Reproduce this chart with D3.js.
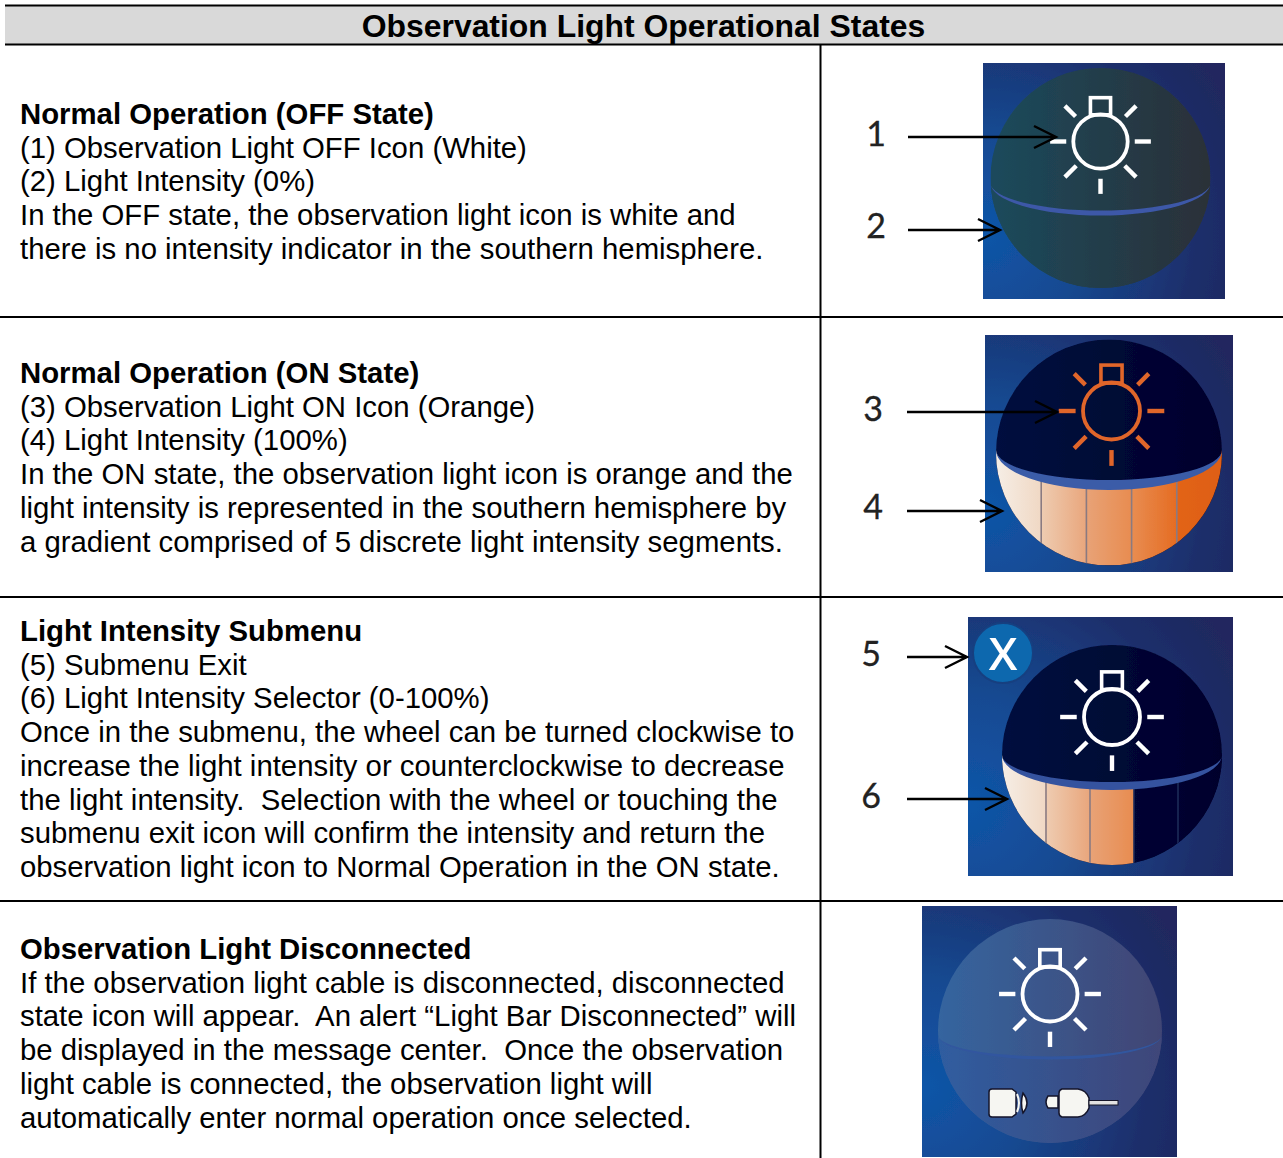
<!DOCTYPE html>
<html><head><meta charset="utf-8"><script src="https://cdn.jsdelivr.net/npm/d3@7"></script>
<style>html,body{margin:0;padding:0;background:#fff}svg{display:block}text{font-family:"Liberation Sans",Arial,sans-serif;fill:#000}</style></head>
<body><svg id="c" width="1283" height="1158"></svg>
<script>
const chartTitle = "Observation Light Operational States";
const rowTitles = ["Normal Operation (OFF State)","Normal Operation (ON State)","Light Intensity Submenu","Observation Light Disconnected"];
const rowBodies = [
 ["(1) Observation Light OFF Icon (White)","(2) Light Intensity (0%)","In the OFF state, the observation light icon is white and","there is no intensity indicator in the southern hemisphere."],
 ["(3) Observation Light ON Icon (Orange)","(4) Light Intensity (100%)","In the ON state, the observation light icon is orange and the","light intensity is represented in the southern hemisphere by","a gradient comprised of 5 discrete light intensity segments."],
 ["(5) Submenu Exit","(6) Light Intensity Selector (0-100%)","Once in the submenu, the wheel can be turned clockwise to","increase the light intensity or counterclockwise to decrease","the light intensity.  Selection with the wheel or touching the","submenu exit icon will confirm the intensity and return the","observation light icon to Normal Operation in the ON state."],
 ["If the observation light cable is disconnected, disconnected","state icon will appear.  An alert “Light Bar Disconnected” will","be displayed in the message center.  Once the observation","light cable is connected, the observation light will","automatically enter normal operation once selected."]
];
const intensityPercent = [0,100,60,null];
const segmentCount = 5;
const calloutLabels = [["1","2"],["3","4"],["5","6"],[]];

// layout (kept apart from the values above)
const firstBaselines=[124,383,641,959], linePitch=33.7;
const orangeStops=[[0,"#f6eee6"],[0.2,"#f0d8c4"],[0.205,"#eecbb0"],[0.4,"#e9a67c"],[0.405,"#e8a276"],[0.6,"#e88c50"],[0.605,"#e88c50"],[0.8,"#e56c22"],[0.805,"#e26418"],[1,"#de5e12"]];
const panels=[
 {x:983,y:63,w:242,h:236,cx:1100.5,cy:178,r:110,eq:183,eqB:213,ix:1100.5,iy:141.5,ir:27.2,icon:"#fff",
  top:["#1b4a5c","#2b3038"],bot:["#1b4a5c","#2b3038"],band:"#3c58a8",bandW:5,
  callouts:[{tx:876,ty:134,x1:908,x2:1056,y:137},{tx:876,ty:226,x1:908,x2:1000,y:230}]},
 {x:985,y:335,w:248,h:237,cx:1109,cy:452.5,r:113,eq:450,eqB:485,ix:1111.5,iy:411,ir:28.5,icon:"#e0662a",
  top:["#04103f","#00002c"],bot:["#04103f","#00002c"],band:"#3a5ca8",bandW:10,
  callouts:[{tx:873,ty:409,x1:907,x2:1057,y:412},{tx:873,ty:507,x1:907,x2:1002,y:511}]},
 {x:968,y:617,w:265,h:259,cx:1112,cy:755,r:110,eq:755,eqB:786,ix:1112,iy:717,ir:28,icon:"#fff",
  top:["#04103f","#00002c"],bot:["#04103f","#00002c"],band:"#34529f",bandW:8,exit:{x:1003,y:653,r:30},
  callouts:[{tx:871,ty:654,x1:907,x2:967,y:657},{tx:871,ty:796,x1:907,x2:1007,y:799}]},
 {x:922,y:906,w:255,h:251,cx:1050,cy:1031,r:112,eq:1035,eqB:1058,ix:1050,iy:994,ir:27.5,icon:"#fff",
  top:["#35659f","#414574"],bot:["#2f5da0","#3f4679"],band:"#31579f",bandW:3,plug:true,
  callouts:[]}
];

const svg=d3.select("#c"), defs=svg.append("defs");
const blur=defs.append("filter").attr("id","soft").attr("x","-5%").attr("y","-5%").attr("width","110%").attr("height","110%");
blur.append("feGaussianBlur").attr("stdDeviation",0.6);
function lin(id,stops){const g=defs.append("linearGradient").attr("id",id);
  stops.forEach(s=>g.append("stop").attr("offset",s[0]).attr("stop-color",s[1]));return `url(#${id})`;}

// header band and rules
svg.append("rect").attr("x",5).attr("y",5).attr("width",1278).attr("height",39).attr("fill","#d9d9d9");
const rule=(x1,y1,x2,y2)=>svg.append("line").attr("x1",x1).attr("y1",y1).attr("x2",x2).attr("y2",y2).attr("stroke","#000").attr("stroke-width",2);
rule(5,5.5,1283,5.5);rule(5,44.5,1283,44.5);
[317,597,901].forEach(y=>rule(0,y,1283,y));
rule(820.5,44,820.5,1158);

svg.append("text").attr("x",643.5).attr("y",37).attr("text-anchor","middle").attr("font-weight","bold").attr("font-size",31.9).text(chartTitle);
rowTitles.forEach((t,i)=>{
  const g=svg.append("g").attr("font-size",29.33);
  g.append("text").attr("x",20).attr("y",firstBaselines[i]).attr("font-weight","bold").text(t);
  g.selectAll("text.b").data(rowBodies[i]).join("text").attr("class","b").attr("x",20)
   .attr("y",(d,j)=>firstBaselines[i]+(j+1)*linePitch).style("white-space","pre").text(d=>d);
});

const rowG=svg.selectAll("g.panel").data(panels).join("g").attr("class","panel");
rowG.each(function(p,i){
  const g=d3.select(this), art=g.append("g").attr("filter","url(#soft)");
  const id="p"+i;
  const bg=defs.append("radialGradient").attr("id",id+"bg").attr("gradientUnits","userSpaceOnUse")
    .attr("cx",p.x).attr("cy",p.y+p.h*0.72).attr("r",p.w*1.15);
  [[0,"#0f55a8"],[0.35,"#164a92"],[0.75,"#1c2f6c"],[1,"#20285e"]].forEach(s=>bg.append("stop").attr("offset",s[0]).attr("stop-color",s[1]));
  art.append("rect").attr("x",p.x).attr("y",p.y).attr("width",p.w).attr("height",p.h).attr("fill",`url(#${id}bg)`);
  defs.append("clipPath").attr("id",id+"c").append("circle").attr("cx",p.cx).attr("cy",p.cy).attr("r",p.r);
  const S=art.append("g").attr("clip-path",`url(#${id}c)`);
  const L=p.cx-p.r,R=p.cx+p.r;
  const arc=(b,sweep,to)=>`A${p.r},${b-p.eq} 0 0 ${sweep} ${to},${p.eq}`;
  S.append("rect").attr("x",L).attr("y",p.cy-p.r).attr("width",2*p.r).attr("height",2*p.r).attr("fill",lin(id+"t",[[0,p.top[0]],[1,p.top[1]]]));
  const lowerId=id+"l";
  defs.append("clipPath").attr("id",lowerId).append("path").attr("d",`M${L},${p.eq}${arc(p.eqB,0,R)}L${R},${p.cy+p.r}L${L},${p.cy+p.r}Z`);
  const lower=S.append("g").attr("clip-path",`url(#${lowerId})`);
  lower.append("rect").attr("x",L).attr("y",p.cy-p.r).attr("width",2*p.r).attr("height",2*p.r).attr("fill",lin(id+"b",[[0,p.bot[0]],[1,p.bot[1]]]));
  const pct=intensityPercent[i];
  if(pct){
    const x=d3.scaleLinear().domain([0,100]).range([L,R]);
    const ticks=d3.range(1,segmentCount).map(k=>k*100/segmentCount);
    const st=orangeStops.filter(s=>s[0]<=pct/100).map(s=>[s[0]*100/pct,s[1]]);
    lower.append("rect").attr("x",L).attr("y",p.cy-p.r).attr("width",x(pct)-L).attr("height",2*p.r).attr("fill",lin(id+"o",st));
    lower.selectAll("line.seg").data(ticks).join("line").attr("class","seg")
      .attr("x1",d=>x(d)).attr("x2",d=>x(d)).attr("y1",p.cy-p.r).attr("y2",p.cy+p.r)
      .attr("stroke",d=>d<pct?"#8a7a80":"#1c2a58").attr("stroke-width",1.6);
  }
  // equator: crescent, thin at the rim and thick at the middle
  S.append("path").attr("d",`M${L},${p.eq}${arc(p.eqB+p.bandW/2,0,R)}${arc(p.eqB-p.bandW/2,1,L)}Z`).attr("fill",p.band);
  // light icon
  const ic=art.append("g").attr("transform",`translate(${p.ix},${p.iy})`).attr("stroke",p.icon).attr("fill","none").attr("stroke-width",3.8);
  const s=p.ir/27;
  ic.append("circle").attr("r",p.ir);
  ic.append("rect").attr("x",-10*s).attr("y",-43.5*s).attr("width",20*s).attr("height",17*s).attr("stroke-width",3.6);
  const rays=[[0,34,50],[180,34,50],[90,37,52],[45,34,50],[135,34,50],[-45,35,50],[-135,35,50]];
  ic.selectAll("line").data(rays).join("line")
    .attr("x1",d=>Math.cos(d[0]*Math.PI/180)*d[1]*s).attr("y1",d=>Math.sin(d[0]*Math.PI/180)*d[1]*s)
    .attr("x2",d=>Math.cos(d[0]*Math.PI/180)*d[2]*s).attr("y2",d=>Math.sin(d[0]*Math.PI/180)*d[2]*s)
    .attr("stroke-width",4.4);
  if(p.exit){
    art.append("circle").attr("cx",p.exit.x).attr("cy",p.exit.y).attr("r",p.exit.r).attr("fill","#0f68ae").attr("stroke","#143f80").attr("stroke-width",2);
    art.append("text").attr("x",p.exit.x).attr("y",p.exit.y+17).attr("text-anchor","middle").attr("font-weight",600).attr("font-size",46).style("fill","#fff").style("font-family","'Open Sans',sans-serif").text("X");
  }
  if(p.plug){
    const pg=art.append("g").attr("stroke","#15152a").attr("stroke-width",1.5).attr("fill","#f6f6f2");
    pg.append("path").attr("d","M992,1089 H1012 L1016,1092 V1114 L1012,1117 H992 Q989,1117 989,1114 V1092 Q989,1089 992,1089 Z");
    pg.append("path").attr("d","M1017,1094 Q1021,1103 1017,1112").attr("fill","none").attr("stroke","#f6f6f2").attr("stroke-width",2);
    pg.append("path").attr("d","M1023,1093 Q1031,1103 1023,1113 Q1020,1103 1023,1093 Z");
    pg.append("path").attr("d","M1048,1096 H1058 V1108 H1048 Q1044,1102 1048,1096 Z");
    pg.append("path").attr("d","M1062,1089 H1078 Q1086,1090 1089,1098 V1108 Q1086,1116 1078,1117 H1062 Q1059,1116 1059,1113 V1093 Q1059,1090 1062,1089 Z");
    pg.append("rect").attr("x",1089).attr("y",1100.5).attr("width",29).attr("height",4.5).attr("fill","#e2e2e2").attr("stroke-width",1);
  }
  const labels=calloutLabels[i];
  p.callouts.forEach((c,k)=>{
    g.append("text").attr("x",c.tx).attr("y",c.ty+12).attr("text-anchor","middle").attr("font-size",34).style("font-family","Lato,sans-serif").style("fill","#222").style("stroke","#222").style("stroke-width",0.3).text(labels[k]);
    g.append("path").attr("d",`M${c.x1},${c.y}H${c.x2}M${c.x2-22},${c.y-11}L${c.x2},${c.y}L${c.x2-22},${c.y+11}`).attr("fill","none").attr("stroke","#000").attr("stroke-width",2.4);
  });
});
</script></body></html>
